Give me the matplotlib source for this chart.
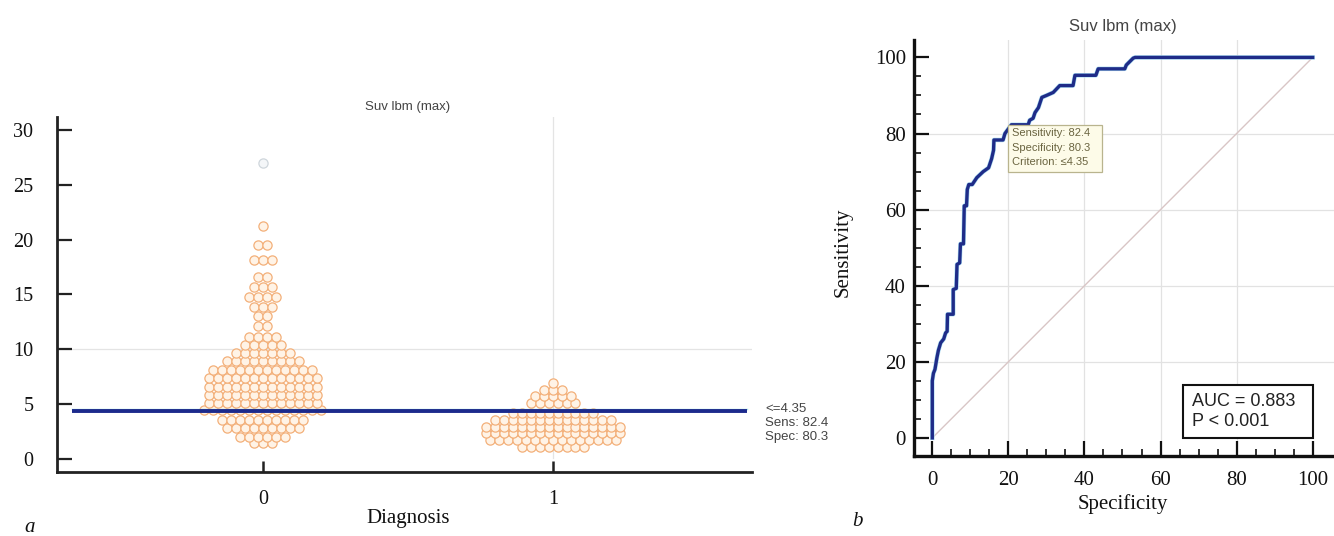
import numpy as np
import matplotlib
matplotlib.use('Agg')
import matplotlib.pyplot as plt
from matplotlib.ticker import MultipleLocator, FixedLocator
from matplotlib.patches import Rectangle

W, H = 1334, 536

# ---------------- data ----------------
categories = ['0', '1']
# dot plot rows for Diagnosis = 0 (value, number of dots in the row)
g0_row_values = [1.5, 2.0, 2.8, 3.6, 4.45, 5.1, 5.8, 6.6, 7.4, 8.1, 8.9, 9.7,
                 10.4, 11.1, 12.1, 13.0, 13.9, 14.8, 15.7, 16.6, 18.1, 19.5, 21.2]
g0_row_counts = [3, 6, 9, 10, 14, 13, 13, 13, 13, 12, 9, 7,
                 5, 4, 2, 2, 3, 4, 3, 2, 3, 2, 1]
g0_outlier = [27.0]
# dot plot rows for Diagnosis = 1
g1_row_values = [1.1, 1.7, 2.4, 2.9, 3.6, 4.2, 5.1, 5.7, 6.3, 6.9]
g1_row_counts = [8, 15, 16, 16, 14, 10, 6, 5, 3, 1]

cutoff = 4.35
sens_at_cut = 82.4
spec_at_cut = 80.3

# ROC curve (x = 100 - specificity as drawn, y = sensitivity)
roc_x = [0, 0, 0.3, 0.7, 1.2, 1.6, 2.2, 3.0, 3.5, 3.9, 4.0, 5.5, 5.5, 6.3, 6.5, 7.2,
         7.4, 8.2, 8.4, 9.0, 9.2, 9.6, 10.5, 11.7, 13.4, 14.8, 15.6, 16.1, 16.2,
         18.6, 19.1, 20.8, 25.2, 25.6, 26.5, 27.0, 27.9, 28.8, 30.0, 31.8, 33.5,
         37.0, 37.5, 43.0, 43.6, 50.6, 51.0, 52.8, 53.3, 100]
roc_y = [0, 15, 17, 18, 21, 23, 25, 26, 27.6, 28, 32.5, 32.5, 39, 39.3, 45.6, 46,
         51, 51, 61, 61, 65.3, 66.6, 66.6, 68.4, 70, 71, 73.4, 75.6, 78.3,
         78.3, 80, 82.3, 82.3, 83.5, 84, 85.5, 86.8, 89.5, 90, 90.8, 92.6,
         92.6, 95.3, 95.3, 97, 97, 98, 99.8, 100, 100]
auc = 0.883
p_text = 'P < 0.001'

SERIF = ['Liberation Serif', 'DejaVu Serif']
SANS = ['Liberation Sans', 'DejaVu Sans']

fig = plt.figure(figsize=(W / 100, H / 100), dpi=100)
fig.patch.set_facecolor('white')


def px_rect(l, t, r, b):
    return [l / W, 1 - b / H, (r - l) / W, (b - t) / H]


# ---------------- panel a: dot plot ----------------
ax = fig.add_axes(px_rect(57, 117, 752, 472))
ax.set_xlim(-0.710, 1.686)
ax.set_ylim(-1.185, 31.18)

dx = 0.031


def swarm(center, values, counts):
    xs, ys = [], []
    for v, n in zip(values, counts):
        offs = (np.arange(n) - (n - 1) / 2.0) * dx
        xs.extend(center + offs)
        ys.extend([v] * n)
    return np.array(xs), np.array(ys)


x0, y0 = swarm(0, g0_row_values, g0_row_counts)
x1, y1 = swarm(1, g1_row_values, g1_row_counts)

ax.axhline(10, color='#e4e4e4', lw=0.9, zorder=0)
ax.axvline(1, ymin=0.04, color='#e4e4e4', lw=0.9, zorder=0)

dot_kw = dict(s=44, facecolors='#fff3e6', edgecolors='#f3b07a', linewidths=0.9, zorder=3)
ax.scatter(x0, y0, **dot_kw)
ax.scatter(x1, y1, **dot_kw)
ax.scatter([0] * len(g0_outlier), g0_outlier, s=44, facecolors='#f4f6f8',
           edgecolors='#cfd6dc', linewidths=0.9, zorder=3)

ax.plot([-0.66, 1.67], [cutoff + 0.17, cutoff + 0.17], color='#9fe3e6', lw=1.0, zorder=4)
ax.plot([-0.66, 1.67], [cutoff, cutoff], color='#1c2a8c', lw=2.8, zorder=5,
        solid_capstyle='butt')

for s in ['top', 'right']:
    ax.spines[s].set_visible(False)
for s in ['left', 'bottom']:
    ax.spines[s].set_linewidth(2.0)
    ax.spines[s].set_color('#222222')

ax.yaxis.set_major_locator(MultipleLocator(5))
ax.set_xticks([0, 1])
ax.set_xticklabels(categories)
ax.tick_params(axis='y', direction='in', length=11, width=1.6, pad=17,
               labelsize=14.5, colors='#222222')
ax.tick_params(axis='x', direction='in', length=8, width=1.8, pad=13,
               labelsize=14.5, colors='#222222')
for lab in ax.get_xticklabels() + ax.get_yticklabels():
    lab.set_family(SERIF)
    lab.set_color('#111111')

ax.set_xlabel('Diagnosis', fontsize=15, family=SERIF, color='#111111')
ax.xaxis.set_label_coords((408 - 57) / 695, (472 - 519) / 355)
ax.xaxis.label.set_va('center')

fig.text(408 / W, 1 - 107 / H, 'Suv lbm (max)', ha='center', va='center',
         fontsize=9.5, family=SANS, color='#444444')

fig.text(765 / W, 1 - 409 / H, '<=%.2f' % cutoff, ha='left', va='center',
         fontsize=9.5, family=SANS, color='#444444')
fig.text(765 / W, 1 - 423 / H, 'Sens: %.1f' % sens_at_cut, ha='left', va='center',
         fontsize=9.5, family=SANS, color='#444444')
fig.text(765 / W, 1 - 437 / H, 'Spec: %.1f' % spec_at_cut, ha='left', va='center',
         fontsize=9.5, family=SANS, color='#444444')

fig.text(30 / W, 1 - 527 / H, 'a', ha='center', va='center', fontsize=15,
         family=SERIF, style='italic', color='#111111')

# ---------------- panel b: ROC ----------------
bL, bT, bR, bB = 914.3, 40.3, 1334, 455.6
bx = fig.add_axes(px_rect(bL, bT, bR, bB))
bx.set_xlim(-4.73, 105.6)
bx.set_ylim(-4.65, 104.5)

for v in [20, 40, 60, 80]:
    bx.axhline(v, color='#e2e2e2', lw=0.9, zorder=0)
    bx.axvline(v, color='#e2e2e2', lw=0.9, zorder=0)

bx.plot([0, 100], [0, 100], color='#d9c6c6', lw=1.0, zorder=1)
bx.plot(roc_x, roc_y, color='#a9dcf2', lw=3.2, zorder=2, solid_joinstyle='round')
bx.plot(roc_x, roc_y, color='#1f2c88', lw=2.4, zorder=3, solid_joinstyle='round')

for s in ['top', 'right']:
    bx.spines[s].set_visible(False)
for s in ['left', 'bottom']:
    bx.spines[s].set_linewidth(2.4)
    bx.spines[s].set_color('#111111')

bx.set_xticks(range(0, 101, 20))
bx.set_yticks(range(0, 101, 20))
bx.xaxis.set_minor_locator(FixedLocator([v for v in range(5, 100, 5) if v % 20]))
bx.yaxis.set_minor_locator(FixedLocator([v for v in range(5, 100, 5) if v % 20]))
bx.tick_params(axis='both', which='major', direction='in', length=11, width=1.6,
               labelsize=15, colors='#111111')
bx.tick_params(axis='both', which='minor', direction='in', length=5, width=1.2,
               colors='#111111')
bx.tick_params(axis='y', which='major', pad=6)
bx.tick_params(axis='x', which='major', pad=11)
for lab in bx.get_xticklabels() + bx.get_yticklabels():
    lab.set_family(SERIF)

bW, bH = bR - bL, bB - bT
bx.set_xlabel('Specificity', fontsize=15, family=SERIF, color='#111111')
bx.xaxis.set_label_coords((1123 - bL) / bW, (bB - 504) / bH)
bx.xaxis.label.set_va('center')
bx.set_ylabel('Sensitivity', fontsize=15, family=SERIF, color='#111111')
bx.yaxis.set_label_coords((843 - bL) / bW, (bB - 252) / bH)
bx.yaxis.label.set_va('center')

fig.text(1123 / W, 1 - 26 / H, 'Suv lbm (max)', ha='center', va='center',
         fontsize=12, family=SANS, color='#444444')

# criterion annotation box
bx.add_patch(Rectangle((20.0, 69.9), 24.5, 12.3, facecolor='#fdfbe8',
                       edgecolor='#b9b48e', lw=0.9, zorder=5))
ann_lines = ['Sensitivity: %.1f' % sens_at_cut,
             'Specificity: %.1f' % spec_at_cut,
             'Criterion: \u2264%.2f' % cutoff]
for yv, txt in zip([80.1, 76.2, 72.4], ann_lines):
    bx.text(20.9, yv, txt, fontsize=8, family=SANS, color='#6a6440',
            ha='left', va='center', zorder=6)

# AUC box
bx.add_patch(Rectangle((65.8, 0), 34.2, 13.9, facecolor='white',
                       edgecolor='#111111', lw=1.5, zorder=5))
bx.text(68.2, 9.7, 'AUC = %.3f' % auc, fontsize=13, family=SANS, color='#222222',
        ha='left', va='center', zorder=6)
bx.text(68.2, 4.3, p_text, fontsize=13, family=SANS, color='#222222',
        ha='left', va='center', zorder=6)

fig.text(857 / W, 1 - 521 / H, 'b', ha='center', va='center', fontsize=15,
         family=SERIF, style='italic', color='#111111')

fig.savefig('out.png', dpi=100, facecolor='white')
